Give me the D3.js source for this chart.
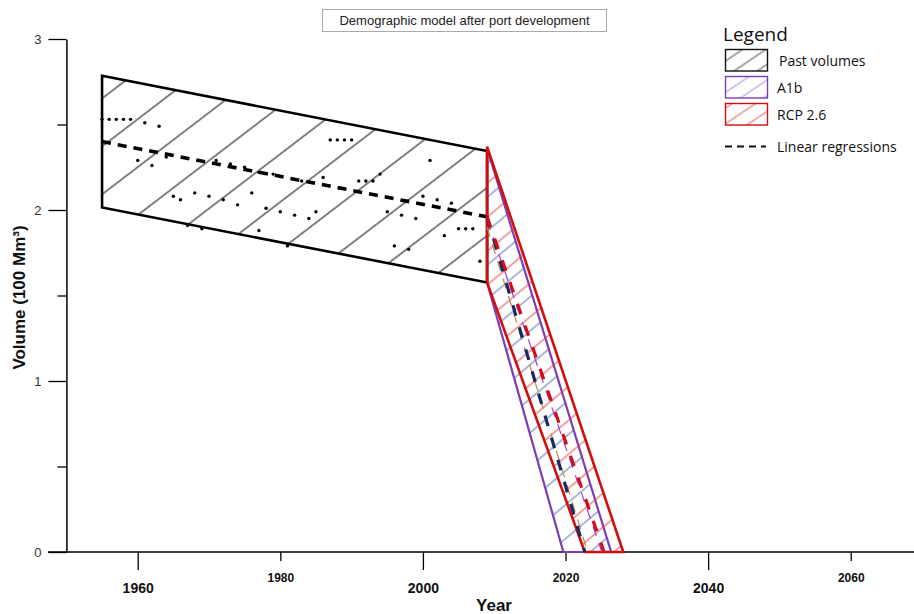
<!DOCTYPE html>
<html>
<head>
<meta charset="utf-8">
<script src="https://cdn.jsdelivr.net/npm/d3@7"></script>
<style>
  body { margin: 0; background: #fff; }
  svg { display: block; }
</style>
</head>
<body>
<svg id="chart" width="914" height="614"></svg>
<script>
// Observed yearly volumes (100 Mm³)
const obsYears  = [1955, 1956, 1957, 1958, 1959, 1960, 1961, 1962, 1963, 1964,
                   1965, 1966, 1967, 1968, 1969, 1970, 1971, 1972, 1973, 1974,
                   1975, 1976, 1977, 1977, 1978, 1979, 1980, 1981, 1982, 1983,
                   1984, 1985, 1986, 1987, 1988, 1989, 1990, 1991, 1992, 1993,
                   1994, 1995, 1996, 1997, 1998, 1999, 2000, 2001, 2002, 2003,
                   2004, 2005, 2006, 2007, 2008];
const obsValues = [2.53, 2.53, 2.53, 2.53, 2.53, 2.29, 2.51, 2.26, 2.49, 2.31,
                   2.08, 2.06, 1.91, 2.10, 1.89, 2.08, 2.29, 2.06, 2.27, 2.03,
                   2.25, 2.10, 2.22, 1.88, 2.01, 2.21, 1.99, 1.79, 1.97, 2.17,
                   1.95, 1.99, 2.19, 2.41, 2.41, 2.41, 2.41, 2.17, 2.17, 2.17,
                   2.21, 1.99, 1.79, 1.97, 1.77, 1.95, 2.08, 2.29, 2.06, 1.85,
                   2.04, 1.89, 1.89, 1.89, 1.70];

// Envelope of past volumes
const pastYears = [1955, 2009];
const pastUpper = [2.785, 2.345];
const pastLower = [2.015, 1.576];

// Projection envelopes from 2009: [top, bottom] at start, then depletion years
const projStart   = 2009;
const a1bStart    = [2.36, 1.576];
const a1bDepleted = [2026.4, 2019.7];   // outer, inner edge reaching zero
const rcpStart    = [2.37, 1.576];
const rcpDepleted = [2028.1, 2022.7];

// Linear regressions
const regPastYears = [1955, 2009];
const regPastVals  = [2.40, 1.96];
const regA1bYears  = [2009, 2022.7];
const regA1bVals   = [1.96, 0];
const regRcpYears  = [2009, 2025.4];
const regRcpVals   = [1.96, 0];
const regAltYears  = [2009, 2025.1];
const regAltVals   = [1.94, 0];
const regTanYears  = [2009, 2023.1];
const regTanVals   = [1.90, 0];

// Axis ticks
const xTicks = [1960, 1980, 2000, 2020, 2040, 2060];
const xMajor = [1960, 2000, 2040];
const yTicks = [0, 0.5, 1, 1.5, 2, 2.5, 3];

const legendLabels = ["Past volumes", "A1b", "RCP 2.6", "Linear regressions"];

const svg = d3.select("#chart");
const defs = svg.append("defs");

const x = d3.scaleLinear().domain([1950, 2069]).range([66.4, 914.9]);
const y = d3.scaleLinear().domain([0, 3]).range([552, 39]);

// Hatch pattern: parallel lines rising to the right at `angle` degrees,
// one of them passing through `anchor` (screen coords)
function hatch(id, color, width, spacing, angle, anchor) {
  const a = angle * Math.PI / 180;
  const v = anchor[0] * Math.sin(a) + anchor[1] * Math.cos(a);
  const off = ((v % spacing) + spacing) % spacing;
  const p = defs.append("pattern")
    .attr("id", id)
    .attr("patternUnits", "userSpaceOnUse")
    .attr("width", 40).attr("height", spacing)
    .attr("x", 0).attr("y", off)
    .attr("patternTransform", `rotate(${-angle})`);
  p.append("path")
    .attr("d", `M0,0H40M0,${spacing}H40`)
    .attr("stroke", color).attr("stroke-width", width).attr("fill", "none");
}

hatch("hPast", "#000", 1.0, 38.1, 37.4, [101.7, 146.7]);
hatch("hA1b", "#3f5fa8", 0.9, 26, 40, [486, 300]);
hatch("hRcp", "#e0302f", 0.9, 26, 40, [486, 286]);
hatch("lgPast", "#222", 0.8, 13, 34, [0, 0]);
hatch("lgA1b", "#9a6ad6", 0.8, 13, 34, [0, 0]);
hatch("lgRcp", "#e0302f", 0.8, 13, 34, [0, 0]);

const line = d3.line().x(d => x(d[0])).y(d => y(d[1]));
const poly = pts => line(pts) + "Z";

// ---- Axes ----
const yAxis = d3.axisLeft(y).tickValues(yTicks).tickSizeInner(18).tickSizeOuter(0)
  .tickPadding(7).tickFormat(d => Number.isInteger(d) ? d3.format("d")(d) : "");
const gy = svg.append("g").attr("transform", `translate(${x(1950)},0)`).call(yAxis);
gy.select(".domain").attr("stroke", "#000").attr("stroke-width", 1.5);
gy.selectAll(".tick line").attr("stroke", "#000").attr("stroke-width", 1.3)
  .attr("x2", d => Number.isInteger(d) ? -18 : -9);
gy.selectAll(".tick text").attr("fill", "#333")
  .style("font-family", "'Liberation Sans', Arial, sans-serif").style("font-size", "13px");

const xAxis = d3.axisBottom(x).tickValues(xTicks).tickSizeInner(18).tickSizeOuter(0)
  .tickFormat(d3.format("d"));
const gx = svg.append("g").attr("transform", `translate(0,${y(0)})`).call(xAxis);
gx.select(".domain").remove();
gx.append("line").attr("x1", 48).attr("x2", 914).attr("y1", 0).attr("y2", 0)
  .attr("stroke", "#000").attr("stroke-width", 1.5);
gx.selectAll(".tick line").attr("stroke", "#000").attr("stroke-width", 1.3)
  .attr("y2", d => xMajor.includes(d) ? 18 : 9);
gx.selectAll(".tick text")
  .attr("fill", "#111")
  .attr("dy", null)
  .attr("y", d => xMajor.includes(d) ? 41 : 30)
  .style("font-family", "'Liberation Sans', Arial, sans-serif")
  .style("font-weight", "bold")
  .style("font-size", d => xMajor.includes(d) ? "14px" : "12px");

// Axis titles
svg.append("text")
  .attr("transform", `translate(25,${(y(0) + y(3)) / 2 + 2}) rotate(-90)`)
  .attr("text-anchor", "middle")
  .style("font-family", "'Liberation Sans', Arial, sans-serif")
  .style("font-weight", "bold").style("font-size", "17px").attr("fill", "#111")
  .text("Volume (100 Mm³)");
svg.append("text")
  .attr("x", 494).attr("y", 611)
  .attr("text-anchor", "middle")
  .style("font-family", "'Liberation Sans', Arial, sans-serif")
  .style("font-weight", "bold").style("font-size", "17px").attr("fill", "#111")
  .text("Year");

// ---- Past volumes envelope ----
const pastPoly = [
  [pastYears[0], pastUpper[0]], [pastYears[1], pastUpper[1]],
  [pastYears[1], pastLower[1]], [pastYears[0], pastLower[0]]
];
svg.append("path").attr("d", poly(pastPoly)).attr("fill", "url(#hPast)")
  .attr("stroke", "#000").attr("stroke-width", 2.6).attr("stroke-linejoin", "miter");

// Observations
svg.append("g").selectAll("circle")
  .data(obsYears.map((yr, i) => [yr, obsValues[i]]))
  .join("circle")
  .attr("cx", d => x(d[0])).attr("cy", d => y(d[1])).attr("r", 1.7)
  .attr("fill", "#000");

// Past regression
svg.append("path")
  .attr("d", line(regPastYears.map((yr, i) => [yr, regPastVals[i]])))
  .attr("fill", "none").attr("stroke", "#000").attr("stroke-width", 3.6)
  .attr("stroke-dasharray", "9,7");

// ---- Projections ----
const a1bPoly = [
  [projStart, a1bStart[0]], [a1bDepleted[0], 0],
  [a1bDepleted[1], 0], [projStart, a1bStart[1]]
];
const rcpPoly = [
  [projStart, rcpStart[0]], [rcpDepleted[0], 0],
  [rcpDepleted[1], 0], [projStart, rcpStart[1]]
];
svg.append("path").attr("d", poly(a1bPoly)).attr("fill", "url(#hA1b)")
  .attr("stroke", "#7b3db9").attr("stroke-width", 2.2);
svg.append("path").attr("d", poly(rcpPoly)).attr("fill", "url(#hRcp)")
  .attr("stroke", "#d10d0d").attr("stroke-width", 2.6);

// Thin scenario regressions
svg.append("path")
  .attr("d", line(regTanYears.map((yr, i) => [yr, regTanVals[i]])))
  .attr("fill", "none").attr("stroke", "#b58a4a").attr("stroke-width", 1.2)
  .attr("stroke-dasharray", "10,8");
svg.append("path")
  .attr("d", line(regAltYears.map((yr, i) => [yr, regAltVals[i]])))
  .attr("fill", "none").attr("stroke", "#a23ad6").attr("stroke-width", 1.2)
  .attr("stroke-dasharray", "10,8");

// Projection regressions
svg.append("path")
  .attr("d", line(regA1bYears.map((yr, i) => [yr, regA1bVals[i]])))
  .attr("fill", "none").attr("stroke", "#1b2a63").attr("stroke-width", 3.2)
  .attr("stroke-dasharray", "11,12");
svg.append("path")
  .attr("d", line(regRcpYears.map((yr, i) => [yr, regRcpVals[i]])))
  .attr("fill", "none").attr("stroke", "#d10d1a").attr("stroke-width", 3.2)
  .attr("stroke-dasharray", "11,12");

// ---- Title box ----
const title = svg.append("g");
title.append("rect").attr("x", 322.5).attr("y", 9.5).attr("width", 284).attr("height", 22)
  .attr("fill", "#fff").attr("stroke", "#aaa").attr("stroke-width", 1);
title.append("text").attr("x", 464.5).attr("y", 25)
  .attr("text-anchor", "middle")
  .style("font-family", "'Liberation Sans', Arial, sans-serif").style("font-size", "13px")
  .attr("fill", "#222")
  .text("Demographic model after port development");

// ---- Legend ----
const lg = svg.append("g").attr("transform", "translate(723,0)");
lg.append("text").attr("x", 0).attr("y", 41)
  .style("font-family", "'Open Sans', sans-serif").style("font-size", "19px").attr("fill", "#111")
  .text("Legend");
const boxFills = ["url(#lgPast)", "url(#lgA1b)", "url(#lgRcp)"];
const boxStrokes = ["#111", "#7b3db9", "#d10d0d"];
const boxTops = [49.5, 76.5, 103.5];
boxTops.forEach((t, i) => {
  lg.append("rect").attr("x", 2.5).attr("y", t).attr("width", 42).attr("height", 21.5)
    .attr("fill", boxFills[i]).attr("stroke", boxStrokes[i]).attr("stroke-width", 1.4);
  lg.append("text").attr("x", i === 0 ? 56 : 54).attr("y", t + 16)
    .style("font-family", "'Open Sans', sans-serif").style("font-size", "14px").attr("fill", "#111")
    .text(legendLabels[i]);
});
lg.append("line").attr("x1", 2).attr("x2", 43).attr("y1", 146.5).attr("y2", 146.5)
  .attr("stroke", "#111").attr("stroke-width", 2).attr("stroke-dasharray", "7,5");
lg.append("text").attr("x", 54).attr("y", 151.5)
  .style("font-family", "'Open Sans', sans-serif").style("font-size", "14px").attr("fill", "#111")
  .text(legendLabels[3]);
</script>
</body>
</html>
